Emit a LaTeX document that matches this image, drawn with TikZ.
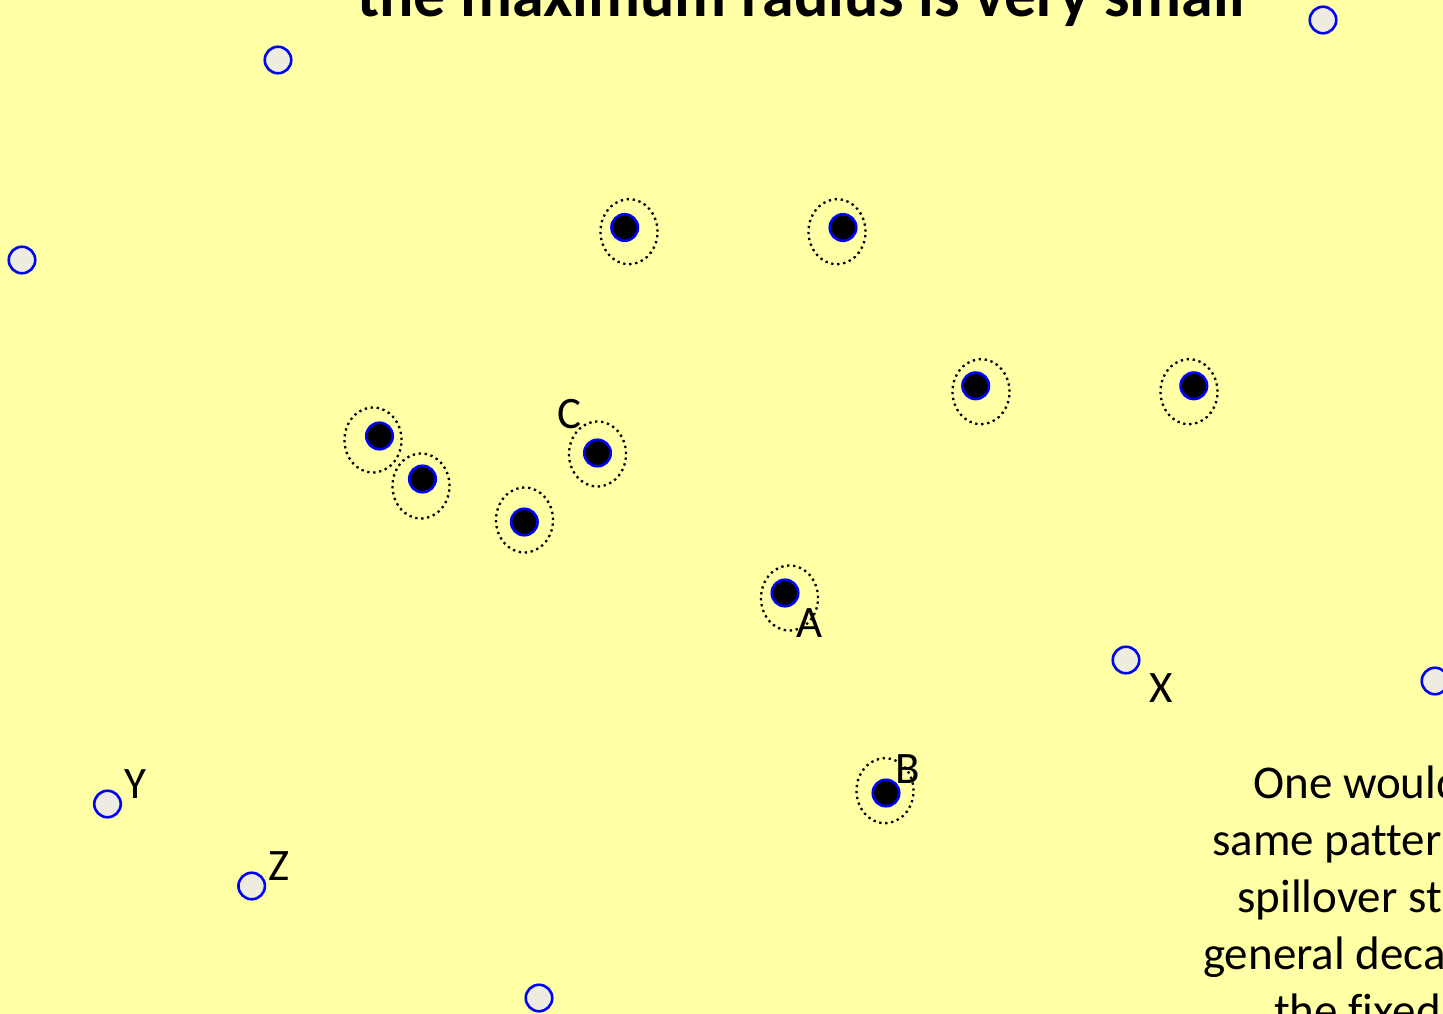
\documentclass[tikz,border=0pt]{standalone}
\usepackage{fontspec}
\setmainfont{Carlito}[Ligatures=NoCommon]
\usepackage{tikz}
\usetikzlibrary{shapes.geometric, positioning}

\definecolor{slideyellow}{HTML}{FFFFA6}
\definecolor{pointgray}{HTML}{EEECE1}

\begin{document}
\begin{tikzpicture}[
    x=1pt, y=-1pt,
    free/.style={circle, draw=blue, line width=2.6pt, fill=pointgray, minimum size=26.5pt, inner sep=0pt},
    fixed/.style={circle, draw=blue, line width=2.6pt, fill=black, minimum size=26.5pt, inner sep=0pt},
    ring/.style={ellipse, draw, line width=2.3pt, dash pattern=on 2.3pt off 3.7pt, minimum width=57pt, minimum height=65pt, inner sep=0pt},
    tag/.style={anchor=base west, inner sep=0pt, font=\fontsize{45}{52}\selectfont},
    body/.style={anchor=base west, inner sep=0pt, font=\fontsize{47}{56}\selectfont}
]
\useasboundingbox (0,0) rectangle (1443,1014);
\clip (0,0) rectangle (1443,1014);
\fill[slideyellow] (0,0) rectangle (1443,1014);

% title, cut off by the top edge
\node[anchor=base, inner sep=0pt, font=\fontsize{64}{72}\selectfont\bfseries] (title) at (801,17) {the maximum radius is very small};

% tolerance rings
\node[ring] (rtl) at (629,231.7) {};
\node[ring] (rtr) at (837,231.7) {};
\node[ring] (rml) at (981,391.7) {};
\node[ring] (rmr) at (1189,391.7) {};
\node[ring] (rp) at (373,440) {};
\node[ring] (rq) at (421,486) {};
\node[ring] (rs) at (524.5,520) {};
\node[ring] (rc) at (597.5,454) {};
\node[ring] (ra) at (789.5,598) {};
\node[ring] (rb) at (885,790.7) {};

% fixed points
\node[fixed] (tl) at (624.7,227.5) {};
\node[fixed] (tr) at (843,227.5) {};
\node[fixed] (ml) at (975.7,385.8) {};
\node[fixed] (mr) at (1193.8,385.8) {};
\node[fixed] (p) at (379.5,436) {};
\node[fixed] (q) at (422.5,479) {};
\node[fixed] (s) at (524.3,522) {};
\node[fixed] (c) at (597.5,453) {};
\node[fixed] (a) at (785,593) {};
\node[fixed] (b) at (886,793) {};

% free points
\node[free] (f1) at (278,60) {};
\node[free] (f2) at (22,260) {};
\node[free] (f3) at (1323,20) {};
\node[free] (x) at (1126,660) {};
\node[free] (f4) at (1435,681) {};
\node[free] (y) at (107.5,804) {};
\node[free] (z) at (251.7,886) {};
\node[free] (f5) at (539,998) {};

% point names
\node[tag] (tagc) at (557,428) {C};
\node[tag] (taga) at (796,637) {A};
\node[tag] (tagx) at (1149,702) {X};
\node[tag] (tagy) at (124,798) {Y};
\node[tag] (tagz) at (268,880) {Z};
\node[tag] (tagb) at (895,783) {B};

% side text, cut off by the right edge
\node[body] (line1) at (1253,798) {One would};
\node[body] (line2) at (1212,855) {same pattern};
\node[body] (line3) at (1237,912) {spillover st};
\node[body] (line4) at (1203,969) {general deca};
\node[body] (line5) at (1274,1026) {the fixed};
\end{tikzpicture}
\end{document}
